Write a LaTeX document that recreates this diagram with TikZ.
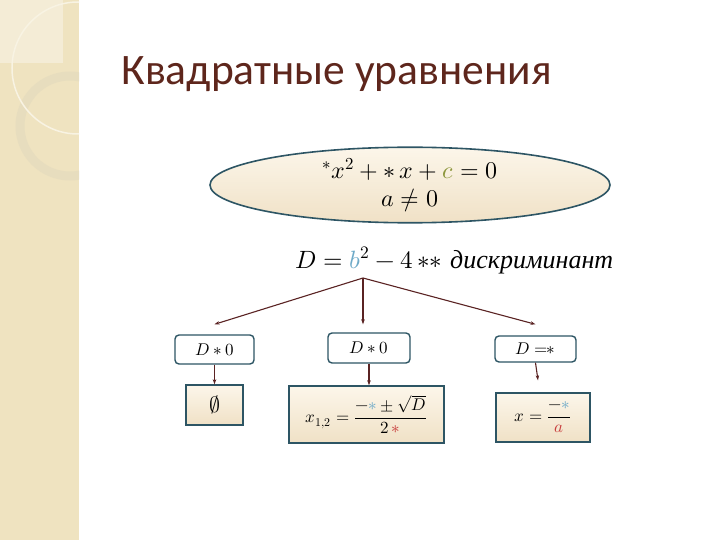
\documentclass[tikz,border=0pt]{standalone}
\usepackage{amsmath}
\usepackage{fontspec}
\usepackage{unicode-math}
\setmathfont{Latin Modern Math}
\newfontfamily\titlefont{Carlito}
\newfontfamily\wordfont{Liberation Serif}
\usepackage{xcolor}
\usepackage{tikz}
\usetikzlibrary{arrows.meta,shapes.geometric,calc}
\definecolor{slidebeige}{RGB}{239,227,192}
\definecolor{slidelight}{RGB}{244,236,214}
\definecolor{ringbeige}{RGB}{231,221,190}
\definecolor{titlebrown}{RGB}{94,38,28}
\definecolor{frameteal}{RGB}{45,85,100}
\definecolor{arrowbrown}{RGB}{90,35,35}
\definecolor{creamtop}{RGB}{252,246,234}
\definecolor{creambottom}{RGB}{240,225,198}
\definecolor{coefblue}{RGB}{110,170,200}
\definecolor{coefgreen}{RGB}{140,150,60}
\definecolor{coefred}{RGB}{200,60,60}
\tikzset{
  condbox/.style={draw=frameteal, line width=1.4pt, rounded corners=4pt, fill=white,
    inner sep=0pt, font=\fontsize{17}{20}\selectfont},
  ansbox/.style={draw=frameteal, line width=1.4pt, top color=creamtop, bottom color=creambottom,
    inner sep=0pt, font=\fontsize{17}{20}\selectfont},
  branch/.style={draw=arrowbrown, line width=1.1pt, -{Stealth[length=5pt,width=3.5pt]}}
}

\begin{document}
\begin{tikzpicture}[x=1pt,y=-1pt]
\useasboundingbox (0,0) rectangle (720,540);
\fill[white] (0,0) rectangle (720,540);
% left stripe of the slide
\begin{scope}
  \clip (0,0) rectangle (79,540);
  \fill[slidebeige] (0,0) rectangle (79,540);
  \fill[slidelight] (0,0) rectangle (63,63);
  \draw[ringbeige, line width=9pt] (70,126) circle[radius=50];
  \draw[white!55!slidebeige, line width=1.5pt] (78,68) circle[radius=66];
\end{scope}

\node[anchor=base west, text=titlebrown, font=\titlefont\fontsize{43.5}{50}\selectfont]
  (title) at (118,85) {Квадратные уравнения};

\node[ellipse, draw=frameteal, line width=1.6pt, top color=creamtop, bottom color=creambottom,
  minimum width=400pt, minimum height=74pt, inner sep=0pt, align=center,
  font=\fontsize{24}{28}\selectfont]
  (eq) at (410,185) {${}^{*}x^{2} +{\ast}\,x + \textcolor{coefgreen}{c} = 0$\\ $a \neq 0$};

\node[anchor=base west, font=\fontsize{25}{28}\selectfont] (disc) at (292,268)
  {$D = \textcolor{coefblue}{b}^{2} - 4\,{\ast}{\ast}$\hspace{8pt}{\wordfont\itshape\fontsize{26}{28}\selectfont дискриминант}};
\coordinate (fork) at (363,278);

% cases
\foreach \name/\xpos/\ypos/\bw/\bh/\txt in {
  c1/214.5/349.5/79/29/{$D \ast 0$},
  c2/369/348/82/30/{$D \ast 0$},
  c3/535.5/349/81/26/{$D =\!\!{\ast}$}
} {
  \node[condbox, minimum width=\bw pt, minimum height=\bh pt] (\name) at (\xpos,\ypos) {\txt};
}

% answers
\node[ansbox, minimum width=57pt, minimum height=40pt, font=\fontsize{22}{24}\selectfont]
  (a1) at (214.5,405) {$\emptyset$};
\node[ansbox, minimum width=155pt, minimum height=57pt] (a2) at (366.5,414.5)
  {$x_{1,2} = \dfrac{-\textcolor{coefblue}{\ast} \pm\sqrt{D}}{2\,\textcolor{coefred}{\ast}}$};
\node[ansbox, minimum width=94pt, minimum height=49pt] (a3) at (543,417.5)
  {$x = \dfrac{-\textcolor{coefblue}{\ast}}{\textcolor{coefred}{a}}$};

\draw[branch] (fork) -- ([yshift=10pt]c1.north);
\draw[branch] (fork) -- ($(fork |- c2.north)+(0,-8)$);
\draw[branch] (fork) -- ([yshift=11pt]c3.north);
\draw[branch] (c1.south) -- (a1.north);
\draw[branch] (c2.south) -- (c2.south |- a2.north);
\draw[branch] (c3.south) -- ($(a3.north)+(-5,-12)$);
\end{tikzpicture}
\end{document}
